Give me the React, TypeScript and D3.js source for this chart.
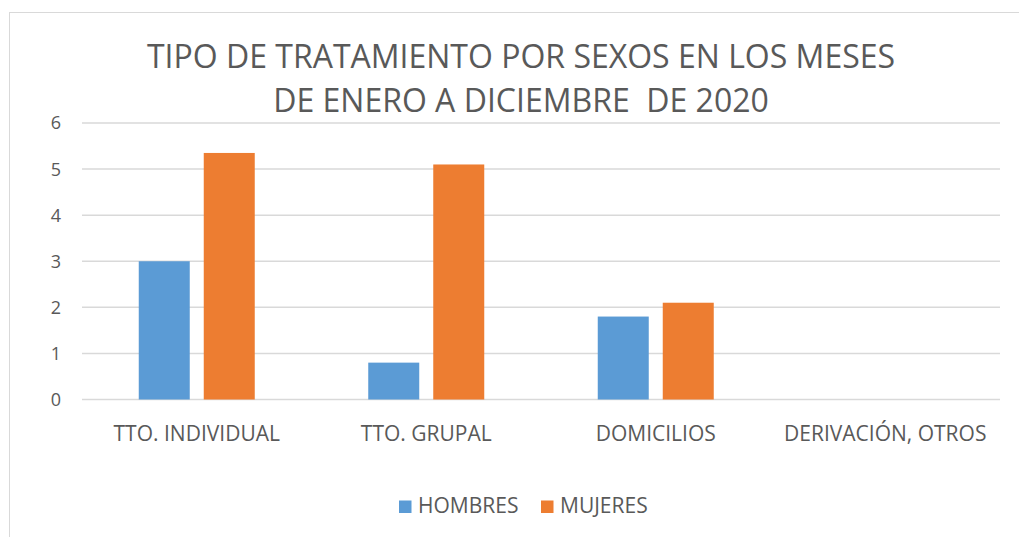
import React from "react";
import * as d3 from "d3";

// datos del gráfico
const categories = ["TTO. INDIVIDUAL", "TTO. GRUPAL", "DOMICILIOS", "DERIVACIÓN, OTROS"];
const seriesNames = ["HOMBRES", "MUJERES"];
const hombres = [3, 0.8, 1.8, 0];
const mujeres = [5.35, 5.1, 2.1, 0];
const yTicks = [0, 1, 2, 3, 4, 5, 6];
const titleLines = ["TIPO DE TRATAMIENTO POR SEXOS EN LOS MESES", "DE ENERO A DICIEMBRE\u00a0 DE 2020"];

const colors = ["#5b9bd5", "#ed7d31"];
const textColor = "#595959";
const font = "'Open Sans', sans-serif";

export default function App() {
  const width = 1019,
    height = 537;
  const plot = { left: 82, right: 1000, top: 123, bottom: 399.5 };

  const x = d3
    .scaleBand<string>()
    .domain(categories)
    .range([plot.left, plot.right]);
  const y = d3.scaleLinear().domain([0, 6]).range([plot.bottom, plot.top]);

  const barW = 51;
  const gap = 14;
  const values = [hombres, mujeres];

  return (
    <svg
      width={width}
      height={height}
      style={{ position: "absolute", left: 0, top: 0, background: "#fff" }}
      fontFamily={font}
    >
      <rect x={0} y={0} width={width} height={height} fill="#fff" />
      <rect x={9.5} y={12.5} width={1040} height={560} fill="none" stroke="#d9d9d9" />

      {/* título */}
      {titleLines.map((t, i) => (
        <text
          key={t}
          x={521}
          y={68 + i * 44}
          textAnchor="middle"
          fontSize={32}
          fill={textColor}
        >
          {t}
        </text>
      ))}

      {/* rejilla y eje y */}
      {yTicks.map((t) => (
        <g key={t}>
          <line
            x1={plot.left}
            x2={plot.right}
            y1={y(t)}
            y2={y(t)}
            stroke="#d9d9d9"
            strokeWidth={1.5}
          />
          <text
            x={61}
            y={y(t)}
            dy="0.36em"
            textAnchor="end"
            fontSize={18}
            fill={textColor}
          >
            {t}
          </text>
        </g>
      ))}

      {/* barras */}
      {categories.map((c, i) => {
        const cx = (x(c) ?? 0) + x.bandwidth() / 2;
        return values.map((vals, s) => {
          const bx = s === 0 ? cx - gap / 2 - barW : cx + gap / 2;
          return (
            <rect
              key={c + s}
              x={bx}
              y={y(vals[i])}
              width={barW}
              height={y(0) - y(vals[i])}
              fill={colors[s]}
            />
          );
        });
      })}

      {/* etiquetas de categorías */}
      {categories.map((c) => (
        <text
          key={c}
          x={(x(c) ?? 0) + x.bandwidth() / 2}
          y={441}
          textAnchor="middle"
          fontSize={21}
          fill={textColor}
        >
          {c}
        </text>
      ))}

      {/* leyenda */}
      {seriesNames.map((n, i) => {
        const lx = i === 0 ? 399 : 541;
        return (
          <g key={n}>
            <rect x={lx} y={500.5} width={12.5} height={12.5} fill={colors[i]} />
            <text x={lx + 19} y={513} fontSize={21} fill={textColor}>
              {n}
            </text>
          </g>
        );
      })}
    </svg>
  );
}
